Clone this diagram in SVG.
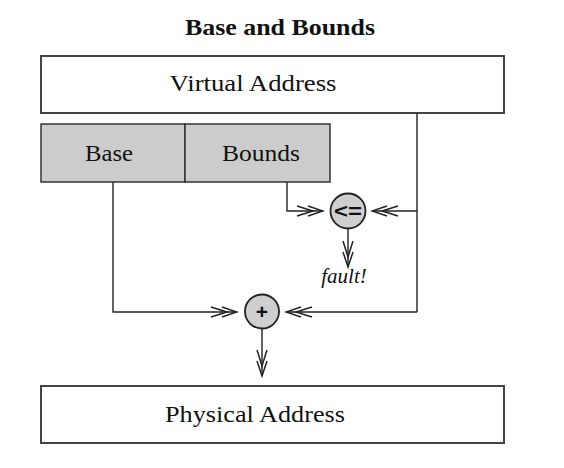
<svg xmlns="http://www.w3.org/2000/svg" width="564" height="468" viewBox="0 0 564 468">
<style>
.box{fill:#fff;stroke:#444;stroke-width:2}
.reg{fill:#cccccc;stroke:#333;stroke-width:1.5}
.op{fill:#cfcfcf;stroke:#222;stroke-width:1.8}
.t{font-family:"Liberation Serif","Times New Roman",serif;font-size:24px;fill:#111;text-anchor:middle}
.sym{font-family:"Liberation Sans",Arial,sans-serif;font-weight:bold;text-anchor:middle;fill:#111}
.ln{fill:none;stroke:#222;stroke-width:1.4}
</style>
<defs>
<marker id="ah" markerUnits="userSpaceOnUse" markerWidth="32" markerHeight="14" viewBox="-30 -7 32 14" refX="0" refY="0" orient="auto">
<path d="M-15,-5 L0,0 L-15,5 M-26,-5 L-10,0 L-26,5" fill="none" stroke="#222" stroke-width="1.5"/>
</marker>
</defs>
<rect width="564" height="468" fill="#fff"/>
<text class="t" x="280" y="35" style="font-weight:bold" textLength="190" lengthAdjust="spacingAndGlyphs">Base and Bounds</text>
<g id="virtual">
<rect class="box" x="41" y="56" width="463" height="57"/>
<text class="t" x="253" y="91" textLength="167" lengthAdjust="spacingAndGlyphs">Virtual Address</text>
</g>
<g id="base">
<rect class="reg" x="41" y="124" width="144" height="58"/>
<text class="t" x="109" y="161" textLength="48" lengthAdjust="spacingAndGlyphs">Base</text>
</g>
<g id="bounds">
<rect class="reg" x="185" y="124" width="145" height="58"/>
<text class="t" x="261" y="161" textLength="78" lengthAdjust="spacingAndGlyphs">Bounds</text>
</g>
<g id="compare">
<circle class="op" cx="348" cy="211" r="17.5"/>
<text class="sym" x="348" y="218" style="font-size:20px" textLength="28" lengthAdjust="spacingAndGlyphs">&lt;=</text>
</g>
<g id="fault">
<text x="344" y="283" style="font-family:'Liberation Serif','Times New Roman',serif;font-size:21px;font-style:italic;text-anchor:middle;fill:#111">fault!</text>
</g>
<g id="add">
<circle class="op" cx="262" cy="311.5" r="17"/>
<text class="sym" x="262" y="319" style="font-size:21px">+</text>
</g>
<g id="physical">
<rect class="box" x="41" y="386" width="463" height="57"/>
<text class="t" x="255" y="422" textLength="180" lengthAdjust="spacingAndGlyphs">Physical Address</text>
</g>
<g id="connectors">
<path class="ln" d="M287,182 V211 H323" marker-end="url(#ah)"/>
<path class="ln" d="M417,113 V312"/>
<path class="ln" d="M417,211 H372" marker-end="url(#ah)"/>
<path class="ln" d="M417,312 H286" marker-end="url(#ah)"/>
<path class="ln" d="M113,182 V312 H237" marker-end="url(#ah)"/>
<path class="ln" d="M348,229 V267" marker-end="url(#ah)"/>
<path class="ln" d="M262,329 V376" marker-end="url(#ah)"/>
</g>
</svg>
